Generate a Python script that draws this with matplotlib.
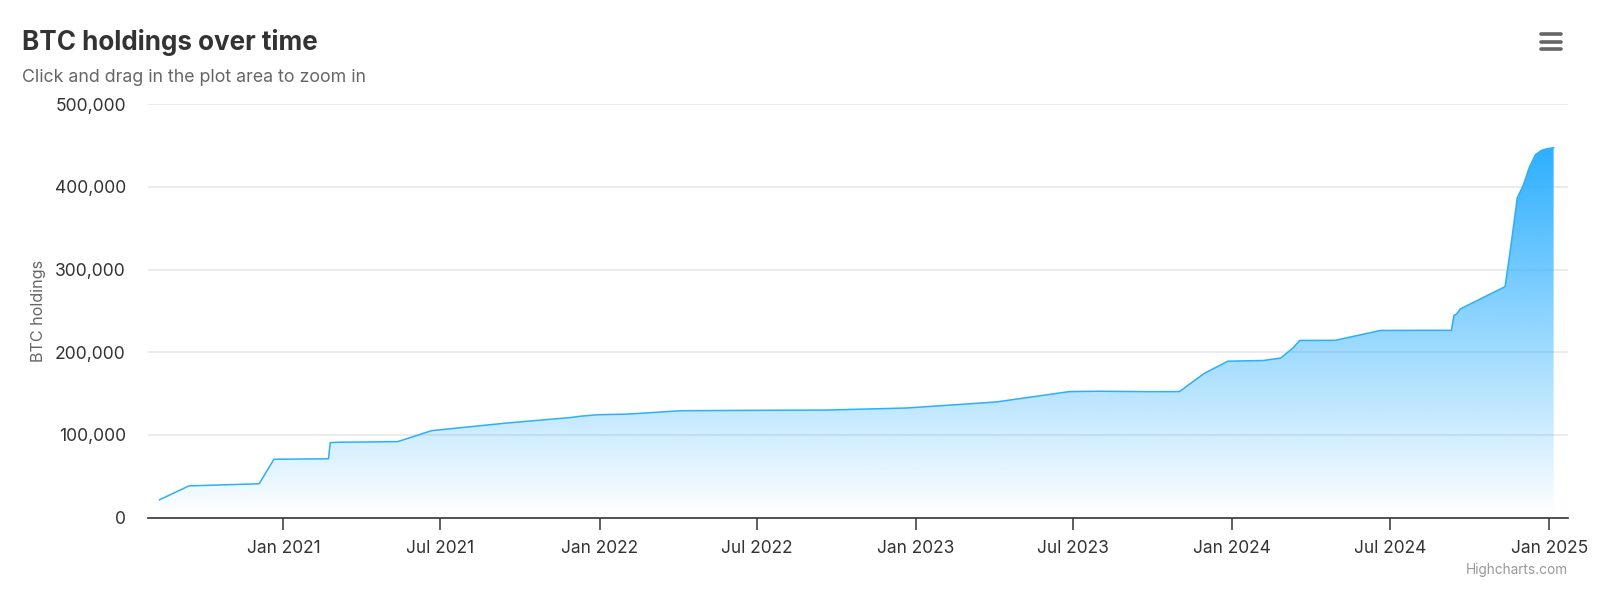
import matplotlib
matplotlib.use("Agg")
import matplotlib.pyplot as plt
import matplotlib.dates as mdates
from matplotlib.patches import Polygon
from matplotlib.lines import Line2D
from matplotlib.ticker import FuncFormatter
import numpy as np
import pandas as pd

# ---------------- data ----------------
dates = [
    "2020-08-11", "2020-09-14", "2020-12-04", "2020-12-21", "2021-02-22",
    "2021-02-24", "2021-03-01", "2021-03-05", "2021-04-05", "2021-05-13",
    "2021-06-21", "2021-09-13", "2021-11-29", "2021-12-09",
    "2021-12-30", "2022-02-01", "2022-04-05", "2022-06-29", "2022-09-20",
    "2022-12-21", "2023-03-23", "2023-04-05", "2023-06-27", "2023-07-31",
    "2023-09-24", "2023-11-01", "2023-11-30", "2023-12-27", "2024-02-06",
    "2024-02-26", "2024-03-11", "2024-03-19", "2024-04-29", "2024-06-20",
    "2024-08-01", "2024-09-10", "2024-09-13", "2024-09-16", "2024-09-20",
    "2024-11-11", "2024-11-18", "2024-11-25", "2024-12-02", "2024-12-09",
    "2024-12-16", "2024-12-23", "2024-12-30", "2025-01-06",
]
holdings = [
    21454, 38250, 40824, 70470, 71079,
    90531, 90859, 91064, 91326, 91850,
    105085, 114042, 121044, 122478,
    124391, 125051, 129218, 129699, 130000,
    132500, 138955, 140000, 152333, 152800,
    152300, 152333, 174530, 189150, 190000,
    193000, 205000, 214246, 214400, 226331,
    226500, 226500, 244800, 246000, 252220,
    279420, 331200, 386700, 402100, 423650,
    439000, 444262, 446400, 447470,
]
y_ticks = [0, 100000, 200000, 300000, 400000, 500000]
x_tick_dates = ["2021-01-01", "2021-07-01", "2022-01-01", "2022-07-01", "2023-01-01",
                "2023-07-01", "2024-01-01", "2024-07-01", "2025-01-01"]
x_tick_labels = ["Jan 2021", "Jul 2021", "Jan 2022", "Jul 2022", "Jan 2023",
                 "Jul 2023", "Jan 2024", "Jul 2024", "Jan 2025"]
title = "BTC holdings over time"
subtitle = "Click and drag in the plot area to zoom in"
y_title = "BTC holdings"
credit = "Highcharts.com"

# ---------------- style ----------------
W, H = 1600, 592
FONT = ["Inter", "DejaVu Sans"]
plt.rcParams["font.family"] = FONT
COLOR = "#2caffe"

fig = plt.figure(figsize=(W / 100, H / 100), dpi=100)
fig.patch.set_facecolor("white")

def fx(px):
    return px / W

def fy(py):
    return 1 - py / H

ax = fig.add_axes([fx(148), fy(517.5), fx(1568) - fx(148), fy(104.3) - fy(517.5)])

x = mdates.date2num(pd.to_datetime(dates))
y = np.array(holdings, dtype=float)

XMIN = mdates.date2num(pd.Timestamp("2020-07-28 16:00"))
XMAX = mdates.date2num(pd.Timestamp("2025-01-22 14:00"))

# gradient fill clipped to the area
ymax = y.max()
grad = np.zeros((256, 1, 4))
rgb = matplotlib.colors.to_rgb(COLOR)
grad[:, 0, 0] = rgb[0]
grad[:, 0, 1] = rgb[1]
grad[:, 0, 2] = rgb[2]
grad[:, 0, 3] = np.linspace(0, 1, 256)
im = ax.imshow(grad, aspect="auto", origin="lower",
               extent=[x[0], x[-1], 0, ymax], zorder=2, interpolation="bilinear")
verts = np.column_stack([np.concatenate([[x[0]], x, [x[-1]]]),
                         np.concatenate([[0], y, [0]])])
poly = Polygon(verts, closed=True, facecolor="none", edgecolor="none",
               transform=ax.transData)
ax.add_patch(poly)
im.set_clip_path(poly)

ax.plot(x, y, color=COLOR, lw=1.1, zorder=3, solid_joinstyle="round")

ax.set_xlim(XMIN, XMAX)
ax.set_ylim(0, 500000)

# grid
ax.set_yticks(y_ticks)
ax.yaxis.set_major_formatter(FuncFormatter(lambda v, p: f"{int(v):,}"))
for v in y_ticks[1:]:
    ax.axhline(v, color="#e6e6e6", lw=1.1, zorder=1)

for s in ["top", "right", "left"]:
    ax.spines[s].set_visible(False)
ax.spines["bottom"].set_color("#333333")
ax.spines["bottom"].set_linewidth(1.2)
ax.spines["bottom"].set_zorder(4)

ax.set_xticks(mdates.date2num(pd.to_datetime(x_tick_dates)))
ax.set_xticklabels(x_tick_labels)
ax.tick_params(axis="x", length=8.5, width=1.1, color="#333333", pad=8,
               labelsize=13.5, labelcolor="#333333")
ax.tick_params(axis="y", length=0, pad=16, labelsize=13.5, labelcolor="#333333")

# titles
t = fig.text(fx(22), fy(50), title, fontsize=20, fontweight="bold", color="#333333",
             ha="left", va="baseline")
st = fig.text(fx(22), fy(81.7), subtitle, fontsize=13.5, color="#666666",
              ha="left", va="baseline")
yt = fig.text(fx(38), fy(311), y_title, fontsize=12, color="#666666", rotation=90,
              ha="center", va="center")
cr = fig.text(fx(1568), fy(570), credit, fontsize=10, color="#999999",
              ha="right", va="center")

# fit text widths to reference measurements
fig.canvas.draw()
def fit(txt, target, horizontal=True):
    bb = txt.get_window_extent()
    w = bb.width if horizontal else bb.height
    txt.set_fontsize(txt.get_fontsize() * target / w)
fit(t, 297)
fit(st, 346)
fit(yt, 102, horizontal=False)
fit(cr, 103)
lab = ax.get_xticklabels()[6]
bb = lab.get_window_extent()
xs = 13.5 * 78.3 / bb.width
ax.tick_params(axis="x", labelsize=xs)
ylab = ax.get_yticklabels()[-1]
bb = ylab.get_window_extent()
ys = 13.5 * 71 / bb.width
ax.tick_params(axis="y", labelsize=ys)

# hamburger menu
for py in [34, 41.7, 49]:
    fig.add_artist(Line2D([fx(1540.5), fx(1561)], [fy(py), fy(py)], color="#666666",
                          lw=2.6, solid_capstyle="round"))

fig.savefig("out.png", dpi=100, facecolor="white")
